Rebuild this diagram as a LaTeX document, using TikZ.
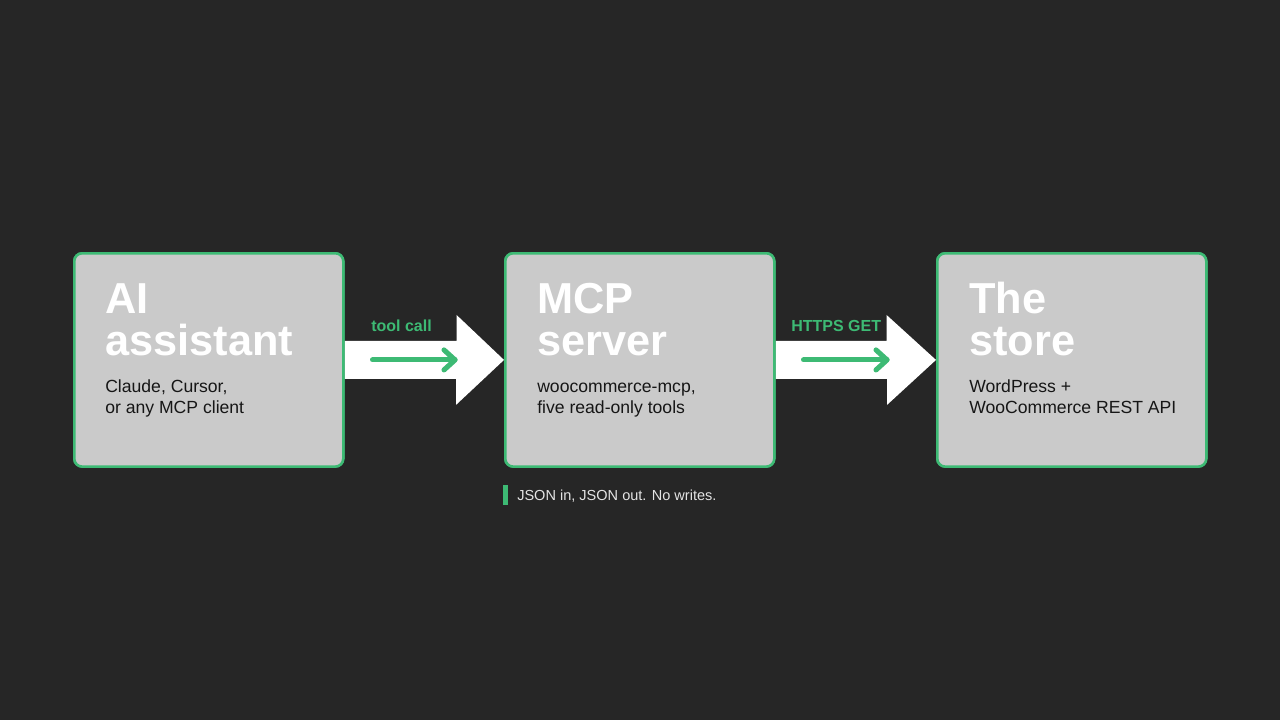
\documentclass[tikz,border=0pt]{standalone}
\usepackage{fontspec}
\setmainfont{Liberation Sans}
\usetikzlibrary{calc}
\definecolor{bg}{HTML}{262626}
\definecolor{boxfill}{HTML}{CACACA}
\definecolor{accent}{HTML}{3DBA74}
\definecolor{subtext}{HTML}{161616}
\definecolor{foot}{HTML}{E4E4E4}
\tikzset{
  stage/.style={draw=accent, line width=1.9pt, fill=boxfill, rounded corners=6pt,
    minimum width=201.75pt, minimum height=160pt, inner sep=0pt, anchor=north west},
  title/.style={anchor=base west, inner sep=0pt, text=white, font=\fontsize{32.5}{32.5}\selectfont\bfseries},
  sub/.style={anchor=base west, inner sep=0pt, text=subtext, font=\fontsize{13.2}{13.2}\selectfont},
  lab/.style={anchor=base west, inner sep=0pt, text=accent, font=\fontsize{12}{12}\selectfont\bfseries},
  footnote/.style={anchor=base west, inner sep=0pt, text=foot, font=\fontsize{10.9}{10.9}\selectfont},
  bigarrow/.style={fill=white},
  inarrow/.style={draw=accent, line width=3.8pt, line cap=round, line join=round},
}
\begin{document}
\begin{tikzpicture}[x=0.75pt,y=-0.75pt]
\fill[bg] (0,0) rectangle (1280,720);
\useasboundingbox (0,0) rectangle (1280,720);
% boxes
\path (73,252) node[stage] (a) {};
\path (504,252) node[stage] (b) {};
\path (936,252) node[stage] (c) {};
% big arrows
\fill[bigarrow] ($(a.east)+(0,-19)$) -- ++(112,0) -- ++(0,-26) -- (b.west) -- ($(b.west)+(-48,45)$) -- ++(0,-26) -- ($(a.east)+(0,19)$) -- cycle;
\fill[bigarrow] ($(b.east)+(0,-19)$) -- ++(111,0) -- ++(0,-26) -- (c.west) -- ($(c.west)+(-49,45)$) -- ++(0,-26) -- ($(b.east)+(0,19)$) -- cycle;
% redraw boxes on top of arrow ends
\path (73,252) node[stage] (a2) {};
\path (504,252) node[stage] (b2) {};
\path (936,252) node[stage] (c2) {};
% green inner arrows
\coordinate (g1s) at ($(a.east)+(28,0)$);
\coordinate (g1e) at ($(b.west)+(-49,0)$);
\draw[inarrow] (g1s) -- (g1e);
\draw[inarrow] ($(g1e)+(-11,-10)$) -- (g1e) -- ($(g1e)+(-11,10)$);
\coordinate (g2s) at ($(b.east)+(28,0)$);
\coordinate (g2e) at ($(c.west)+(-49,0)$);
\draw[inarrow] (g2s) -- (g2e);
\draw[inarrow] ($(g2e)+(-11,-10)$) -- (g2e) -- ($(g2e)+(-11,10)$);
% labels
\node[lab] (l1) at (371,331) {tool call};
\node[lab] (l2) at (791,331) {HTTPS GET};
% box texts
\node[title] (t1a) at (105,313) {AI};
\node[title] (t1b) at (105,355) {assistant};
\node[sub] (s1a) at (105,392) {Claude, Cursor,};
\node[sub] (s1b) at (105,413) {or any MCP client};
\node[title] (t2a) at (537,313) {MCP};
\node[title] (t2b) at (537,355) {server};
\node[sub] (s2a) at (537,392) {woocommerce-mcp,};
\node[sub] (s2b) at (537,413) {five read-only tools};
\node[title] (t3a) at (969,313) {The};
\node[title] (t3b) at (969,355) {store};
\node[sub] (s3a) at (969,392) {WordPress +};
\node[sub] (s3b) at (969,413) {WooCommerce REST API};
% footnote
\fill[accent] (503,485) rectangle (508,505);
\node[footnote] (fn) at (517,500) {JSON in, JSON out. No writes.};
\end{tikzpicture}
\end{document}
